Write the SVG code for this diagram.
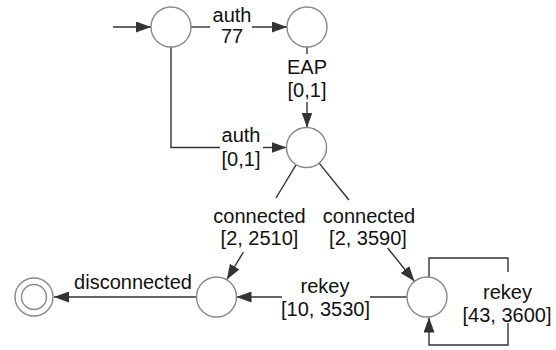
<svg xmlns="http://www.w3.org/2000/svg" width="556" height="350" viewBox="0 0 556 350">
<defs>
<marker id="arr" markerUnits="userSpaceOnUse" markerWidth="15" markerHeight="11" viewBox="0 0 15 11" refX="15" refY="5.5" orient="auto">
<path d="M0,0 L15,5.5 L0,11 z" fill="#333"/>
</marker>
<style>
.st{fill:#fff;stroke:#888;stroke-width:1.4}
.e{fill:none;stroke:#333;stroke-width:1.4}
.a{marker-end:url(#arr)}
text{font-family:"Liberation Sans",Arial,sans-serif;font-size:20px;fill:#111;text-anchor:middle}
</style>
</defs>
<rect width="556" height="350" fill="#fff"/>
<g id="edges">
<g id="e-init"><path class="e a" d="M113,27 H151"/></g>
<g id="e-A-B">
<path class="e" d="M191,27 H210"/>
<path class="e a" d="M252,27 H287"/>
<text x="232" y="21.5">auth</text><text x="232" y="43">77</text>
</g>
<g id="e-B-C">
<path class="e" d="M307,47 V54"/>
<path class="e a" d="M307,102 V127.5"/>
<text x="307" y="73.5">EAP</text><text x="307" y="97">[0,1]</text>
</g>
<g id="e-A-C">
<path class="e" d="M171,47 V147.5 H220"/>
<path class="e a" d="M263,147.5 H286.5"/>
<text x="241" y="142">auth</text><text x="241" y="166">[0,1]</text>
</g>
<g id="e-C-D">
<path class="e" d="M296.2,164.6 L276,198"/>
<path class="e a" d="M243.4,252 L226.9,279.4"/>
<text x="259.5" y="223">connected</text><text x="259.5" y="245">[2, 2510]</text>
</g>
<g id="e-C-E">
<path class="e" d="M319.1,163.1 L348.9,200"/>
<path class="e a" d="M387.6,248 L414.4,281.2"/>
<text x="369" y="223">connected</text><text x="368" y="245">[2, 3590]</text>
</g>
<g id="e-E-D">
<path class="e" d="M407,297 H370"/>
<path class="e a" d="M282,297 H236.5"/>
<text x="325" y="292.5">rekey</text><text x="325.5" y="316">[10, 3530]</text>
</g>
<g id="e-D-F">
<path class="e a" d="M196.5,297 H54"/>
<text x="133" y="289">disconnected</text>
</g>
<g id="e-E-E">
<path class="e" d="M429,277 V258 H508 V272"/>
<path class="e a" d="M508,323 V345 H429 V317.5"/>
<text x="507.5" y="299">rekey</text><text x="507" y="322">[43, 3600]</text>
</g>
</g>
<g id="nodes">
<g id="A"><circle class="st" cx="171" cy="27" r="20"/></g>
<g id="B"><circle class="st" cx="307" cy="27" r="20"/></g>
<g id="C"><circle class="st" cx="306.5" cy="147.5" r="20"/></g>
<g id="D"><circle class="st" cx="216.5" cy="297" r="20"/></g>
<g id="E"><circle class="st" cx="427" cy="297" r="20"/></g>
<g id="F"><circle class="st" cx="34" cy="297" r="19"/><circle class="st" cx="34" cy="297" r="12.5"/></g>
</g>
</svg>
